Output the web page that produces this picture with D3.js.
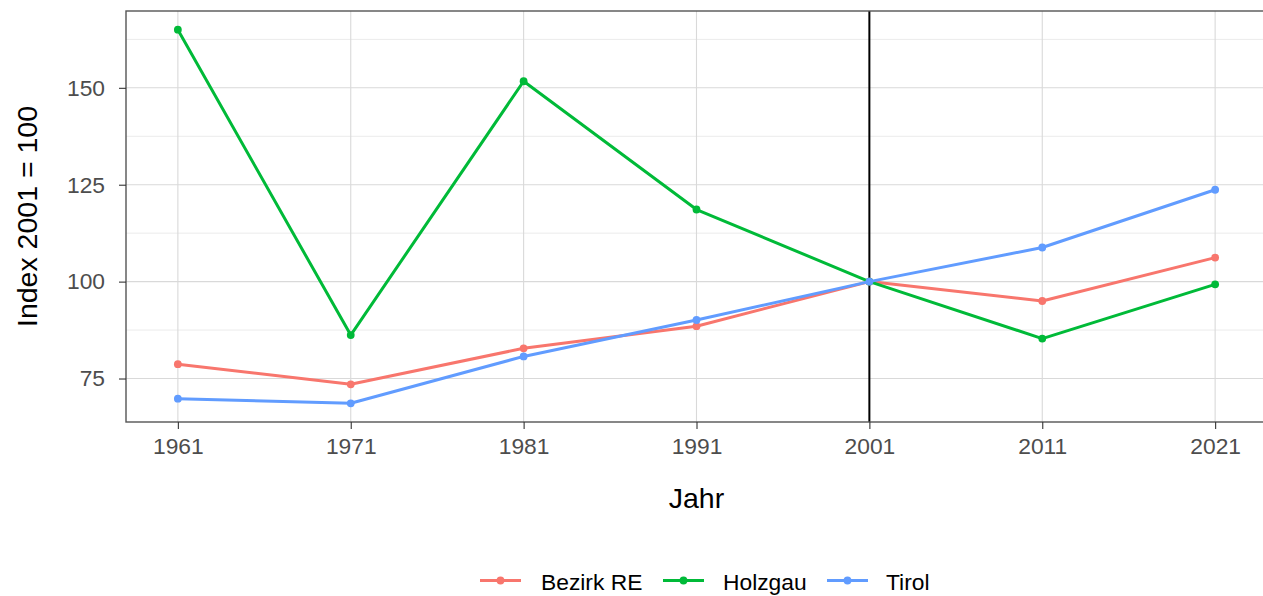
<!DOCTYPE html>
<html><head><meta charset="utf-8">
<script src="https://cdn.jsdelivr.net/npm/d3@7"></script>
<style>body{margin:0;background:#fff;} svg{display:block;font-family:"Liberation Sans",Arial,sans-serif;}</style>
</head><body>
<svg id="c" width="1263" height="596"></svg>
<script>
const years = [1961, 1971, 1981, 1991, 2001, 2011, 2021];
const seriesNames = ["Bezirk RE", "Holzgau", "Tirol"];
const bezirkRE = [78.7, 73.5, 82.8, 88.5, 100, 95.0, 106.2];
const holzgau = [165.0, 86.2, 151.7, 118.6, 100, 85.3, 99.3];
const tirol = [69.8, 68.6, 80.7, 90.1, 100, 108.8, 123.7];
const colors = ["#F8766D", "#00BA38", "#619CFF"];
const yTicks = [75, 100, 125, 150];
const yMinor = [87.5, 112.5, 137.5, 162.5];
const refYear = 2001;

const series = [bezirkRE, holzgau, tirol].map((v, i) => ({name: seriesNames[i], color: colors[i], values: v}));

const svg = d3.select("#c");
const L = 126, R = 1267, T = 11, B = 422;
const allV = series.flatMap(s => s.values);
const vmin = d3.min(allV), vmax = d3.max(allV), pad = (vmax - vmin) * 0.05;
const x = d3.scaleLinear().domain([1958, 2024]).range([L, R]);
const y = d3.scaleLinear().domain([vmin - pad, vmax + pad]).range([B, T]);

const g = svg.append("g");
g.selectAll(".ymin").data(yMinor).join("line")
  .attr("x1", L).attr("x2", R).attr("y1", d => y(d)).attr("y2", d => y(d))
  .attr("stroke", "#ebebeb").attr("stroke-width", 1);
g.selectAll(".ymaj").data(yTicks).join("line")
  .attr("x1", L).attr("x2", R).attr("y1", d => y(d)).attr("y2", d => y(d))
  .attr("stroke", "#d9d9d9").attr("stroke-width", 1.1);
g.selectAll(".xmaj").data(years).join("line")
  .attr("x1", d => x(d)).attr("x2", d => x(d)).attr("y1", T).attr("y2", B)
  .attr("stroke", "#d9d9d9").attr("stroke-width", 1.1);

g.append("line").attr("x1", x(refYear)).attr("x2", x(refYear)).attr("y1", T).attr("y2", B)
  .attr("stroke", "#000").attr("stroke-width", 2);

const line = d3.line().x((d, i) => x(years[i])).y(d => y(d));
series.forEach(s => {
  g.append("path").attr("d", line(s.values)).attr("fill", "none")
    .attr("stroke", s.color).attr("stroke-width", 3).attr("stroke-linejoin", "round");
  g.selectAll(null).data(s.values).join("circle")
    .attr("cx", (d, i) => x(years[i])).attr("cy", d => y(d)).attr("r", 3.9).attr("fill", s.color);
});

svg.append("rect").attr("x", L).attr("y", T).attr("width", R - L).attr("height", B - T)
  .attr("fill", "none").attr("stroke", "#555").attr("stroke-width", 1.4);

const xAxis = d3.axisBottom(x).tickValues(years).tickFormat(d3.format("d")).tickSize(7).tickPadding(9);
const ax = svg.append("g").attr("transform", `translate(0,${B})`).call(xAxis);
ax.attr("font-size", null).attr("font-family", null);
ax.select(".domain").remove();
ax.selectAll(".tick line").attr("stroke", "#333").attr("stroke-width", 1.1);
ax.selectAll(".tick text").attr("fill", "#4d4d4d").style("font-size", "22.8px");

const yAxis = d3.axisLeft(y).tickValues(yTicks).tickSize(7).tickPadding(14);
const ay = svg.append("g").attr("transform", `translate(${L},0)`).call(yAxis);
ay.attr("font-size", null).attr("font-family", null);
ay.select(".domain").remove();
ay.selectAll(".tick line").attr("stroke", "#333").attr("stroke-width", 1.1);
ay.selectAll(".tick text").attr("fill", "#4d4d4d").style("font-size", "22.8px");

svg.append("text").attr("x", (L + R) / 2).attr("y", 508).attr("text-anchor", "middle")
  .style("font-size", "28.5px").attr("fill", "#000").text("Jahr");
svg.append("text").attr("transform", `translate(37,${(T + B) / 2}) rotate(-90)`).attr("text-anchor", "middle")
  .style("font-size", "28.5px").attr("fill", "#000").text("Index 2001 = 100");

const legKeyX = [480, 663, 827];
const legTextX = [541, 723, 886];
const lg = svg.append("g");
series.forEach((s, i) => {
  const lx = legKeyX[i], ly = 580.5;
  lg.append("line").attr("x1", lx).attr("x2", lx + 41).attr("y1", ly).attr("y2", ly)
    .attr("stroke", s.color).attr("stroke-width", 3);
  lg.append("circle").attr("cx", lx + 20.5).attr("cy", ly).attr("r", 3.9).attr("fill", s.color);
  lg.append("text").attr("x", legTextX[i]).attr("y", 589.5).style("font-size", "22.8px").attr("fill", "#000").text(s.name);
});
</script>
</body></html>
